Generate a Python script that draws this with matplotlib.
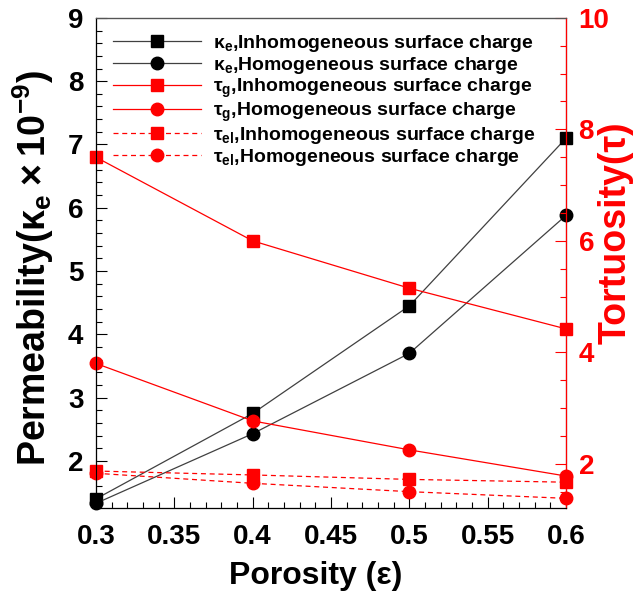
import numpy as np
import matplotlib
matplotlib.use("Agg")
from matplotlib import pyplot as plt
from matplotlib.ticker import MultipleLocator

plt.rcParams['font.family'] = ['Liberation Sans', 'DejaVu Sans']
plt.rcParams['font.weight'] = 'bold'
plt.rcParams['mathtext.default'] = 'regular'

# porosity values
eps = [0.3, 0.4, 0.5, 0.6]

# permeability (x1e-9), left axis
kappa_inh = [1.40, 2.75, 4.45, 7.10]
kappa_hom = [1.33, 2.43, 3.70, 5.88]

# tortuosity, right axis
tau_g_inh = [7.50, 6.00, 5.15, 4.42]
tau_g_hom = [3.80, 2.77, 2.25, 1.78]
tau_el_inh = [1.87, 1.80, 1.72, 1.67]
tau_el_hom = [1.83, 1.65, 1.50, 1.38]

labels = [r"κ$_{e}$,Inhomogeneous surface charge",
          r"κ$_{e}$,Homogeneous surface charge",
          r"τ$_{g}$,Inhomogeneous surface charge",
          r"τ$_{g}$,Homogeneous surface charge",
          r"τ$_{el}$,Inhomogeneous surface charge",
          r"τ$_{el}$,Homogeneous surface charge"]

fig, ax = plt.subplots(figsize=(6.44, 5.96), dpi=100)
fig.subplots_adjust(left=0.149, right=0.879, bottom=0.147, top=0.970)
ax2 = ax.twinx()

blk = '#404040'
red = '#ff0000'
l1, = ax.plot(eps, kappa_inh, color=blk, lw=0.9, marker='s', ms=8, mfc='k', mec='k', clip_on=False, zorder=5)
l2, = ax.plot(eps, kappa_hom, color=blk, lw=0.9, marker='o', ms=9, mfc='k', mec='k', clip_on=False, zorder=5)
l3, = ax2.plot(eps, tau_g_inh, color=red, lw=0.9, marker='s', ms=8, mfc=red, mec=red, clip_on=False)
l4, = ax2.plot(eps, tau_g_hom, color=red, lw=0.9, marker='o', ms=9, mfc=red, mec=red, clip_on=False)
l5, = ax2.plot(eps, tau_el_inh, color=red, lw=0.9, ls=(0, (4, 3)), marker='s', ms=8, mfc=red, mec=red, clip_on=False)
l6, = ax2.plot(eps, tau_el_hom, color=red, lw=0.9, ls=(0, (4, 3)), marker='o', ms=9, mfc=red, mec=red, clip_on=False)

ax.set_xlim(0.3, 0.6)
ax.set_ylim(1.25, 9)
ax2.set_ylim(1.2, 10)

ax.xaxis.set_major_locator(MultipleLocator(0.05))
ax.xaxis.set_minor_locator(MultipleLocator(0.01))
ax.yaxis.set_major_locator(MultipleLocator(1))
ax.yaxis.set_minor_locator(MultipleLocator(0.2))
ax2.yaxis.set_major_locator(MultipleLocator(2))
ax2.yaxis.set_minor_locator(MultipleLocator(0.5))
ax.set_xticks([0.3, 0.35, 0.4, 0.45, 0.5, 0.55, 0.6])
ax.set_xticklabels(['0.3', '0.35', '0.4', '0.45', '0.5', '0.55', '0.6'])

ax.tick_params(which='both', direction='in', top=False, right=False, labelsize=20)
ax.tick_params(axis='x', pad=11)
ax.tick_params(axis='y', pad=9)
ax.tick_params(which='major', length=8, width=0.8)
ax.tick_params(which='minor', length=4, width=0.8)
ax2.tick_params(which='both', direction='in', colors=red, labelsize=20, pad=9)
ax2.tick_params(which='major', length=8, width=0.8)
ax2.tick_params(which='minor', length=4, width=0.8)
for t in ax.get_xticklabels() + ax.get_yticklabels() + ax2.get_yticklabels():
    t.set_fontweight('bold')

for s in ['left', 'bottom', 'top']:
    ax.spines[s].set_color('#555555')
    ax.spines[s].set_linewidth(0.9)
ax2.spines['right'].set_color(red)
ax2.spines['right'].set_linewidth(0.9)
ax2.spines['top'].set_color('#555555')

ax.set_xlabel("Porosity (ε)", fontsize=23, fontweight='bold')
ax.xaxis.set_label_coords(0.468, -0.108)
ax.set_ylabel(r"Permeability($κ_e\times10^{-9}$)", fontsize=27, fontweight='bold')
ax.yaxis.set_label_coords(-0.085, 0.49)
ax2.set_ylabel("Tortuosity(τ)", fontsize=27, fontweight='bold', color=red)
ax2.yaxis.set_label_coords(1.068, 0.563)

leg = ax.legend([l1, l2, l3, l4, l5, l6], labels, loc='upper left',
                bbox_to_anchor=(0.0, 1.005), frameon=False,
                handlelength=4.5, labelspacing=0.05, handletextpad=0.6,
                prop={'weight': 'bold', 'size': 14})
leg.set_zorder(10)

fig.savefig("out.png", dpi=100)
